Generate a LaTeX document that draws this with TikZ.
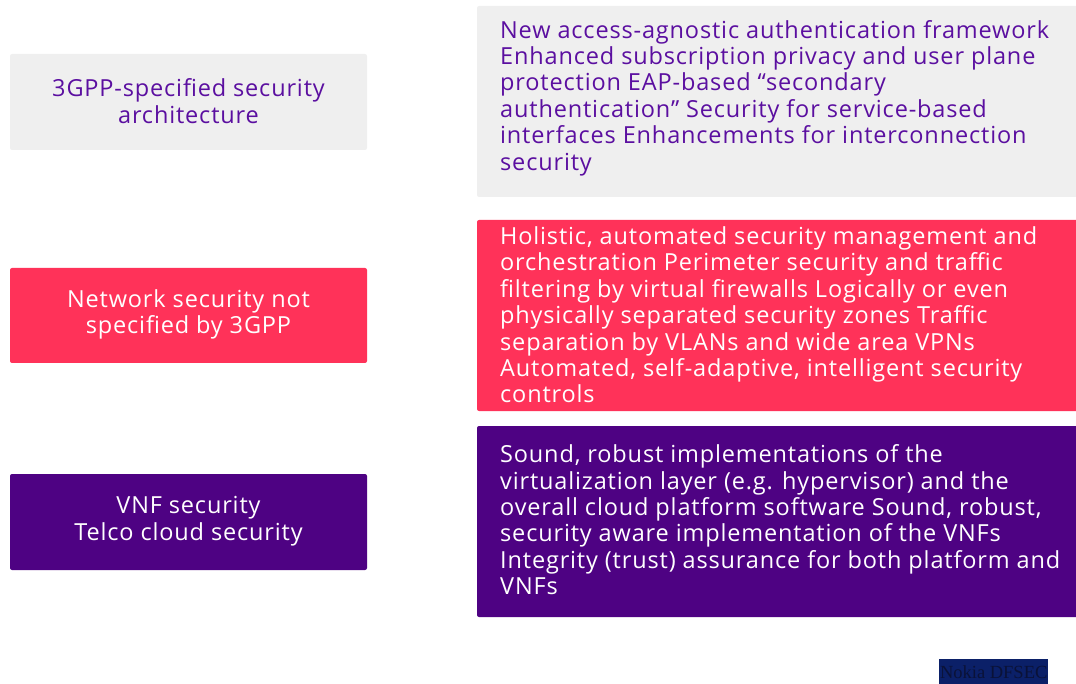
\documentclass[tikz,border=0pt]{standalone}
\usepackage{fontspec}
\setmainfont{Open Sans}[LetterSpace=3.6]
\newfontfamily\tagfont{Liberation Serif}
\definecolor{panelgray}{HTML}{EFEFEF}
\definecolor{alertred}{HTML}{FF3259}
\definecolor{deeppurple}{HTML}{4E0283}
\definecolor{inkpurple}{HTML}{5B0FA0}
\definecolor{tagblue}{HTML}{0B2068}
\definecolor{taginK}{HTML}{0A1238}
\begin{document}
\begin{tikzpicture}[x=1pt,y=-1pt,
  box/.style={rounded corners=2pt},
  txt/.style={font=\fontsize{23.5}{26.4}\selectfont, inner sep=0pt},
  lefttxt/.style={txt, align=center},
  righttxt/.style={txt, align=left, anchor=north west}]
\useasboundingbox (0,0) rectangle (1076,684);

% left column: category boxes
\fill[panelgray, box] (10,54) rectangle (367,150);
\fill[alertred, box] (10,268) rectangle (367,363);
\fill[deeppurple, box] (10,474) rectangle (367,570);

% right column: detail boxes
\fill[panelgray, box] (477,6) rectangle (1080,197);
\fill[alertred, box] (477,220) rectangle (1080,411);
\fill[deeppurple, box] (477,426) rectangle (1080,617);

\node[lefttxt, text=inkpurple] (c1) at (188.5,101) {3GPP-specified security\\architecture};
\node[lefttxt, text=white] (c2) at (188.5,314.5) {Network security not\\specified by 3GPP};
\node[lefttxt, text=white] (c3) at (188.5,521) {VNF security\\Telco cloud security};

\node[righttxt, text=inkpurple] (d1) at (500,20) {New access-agnostic authentication framework\\
Enhanced subscription privacy and user plane\\
protection EAP-based “secondary\\
authentication” Security for service-based\\
interfaces Enhancements for interconnection\\
security};
\node[righttxt, text=white] (d2) at (500,226.5) {Holistic, automated security management and\\
orchestration Perimeter security and traffic\\
filtering by virtual firewalls Logically or even\\
physically separated security zones Traffic\\
separation by VLANs and wide area VPNs\\
Automated, self-adaptive, intelligent security\\
controls};
\node[righttxt, text=white] (d3) at (500,444.5) {Sound, robust implementations of the\\
virtualization layer (e.g. hypervisor) and the\\
overall cloud platform software Sound, robust,\\
security aware implementation of the VNFs\\
Integrity (trust) assurance for both platform and\\
VNFs};

% source tag
\node[fill=tagblue, text=taginK, font=\tagfont\fontsize{18.5}{19}\selectfont,
  minimum width=109pt, minimum height=25pt, inner sep=0pt, anchor=north west] (tag) at (939,659) {Nokia DFSEC};
\end{tikzpicture}
\end{document}
